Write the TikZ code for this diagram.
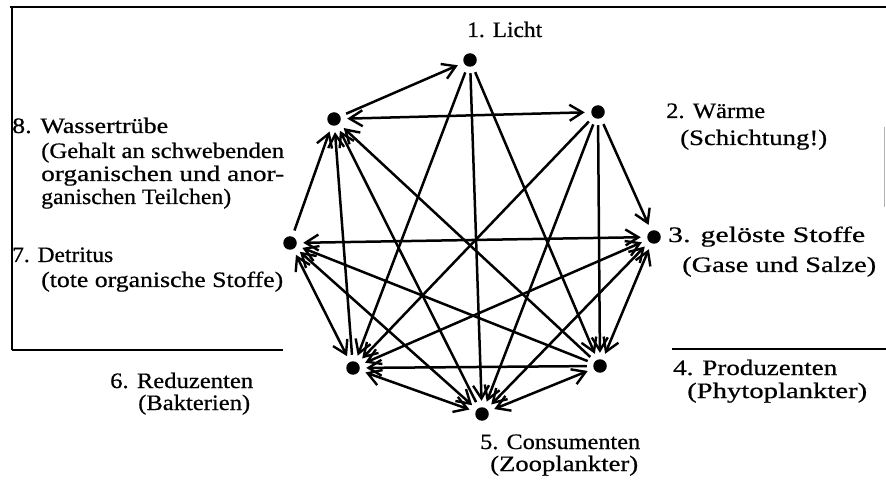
\documentclass[tikz,border=0pt]{standalone}
\usepackage{graphicx}
\usepackage{fontspec}
\setmainfont{Liberation Serif}[FakeBold=0.6]
\usetikzlibrary{arrows.meta}
\newcommand\fitw[2]{\resizebox{#1}{\height}{#2}}
\begin{document}
\begin{tikzpicture}[x=1pt,y=-1pt,
  dot/.style={circle,fill=black,inner sep=0pt,minimum size=13.5pt,outer sep=6.5pt},
  lbl/.style={anchor=base west,inner sep=0pt,font=\fontsize{22}{26}\selectfont},
  edge/.style={line width=2.5pt},
  arr/.style={edge,-{Straight Barb[length=13pt,width=16pt,line width=2.4pt]}},
  barr/.style={edge,{Straight Barb[length=13pt,width=16pt,line width=2.4pt]}-{Straight Barb[length=13pt,width=16pt,line width=2.4pt]}},
  frame/.style={line width=2pt}]
\useasboundingbox (0,0) rectangle (886,486);
% frame
\draw[frame] (10,7) -- (886,7);
\draw[frame] (11.5,7) -- (11.5,350);
\draw[frame] (11.5,350) -- (283,350);
\draw[frame] (672,349) -- (886,349);
\draw[gray!60,line width=1pt] (884.5,127) -- (884.5,207);
% dots
\node[dot] (n1) at (470,60) {};
\node[dot] (n2) at (598,112) {};
\node[dot] (n3) at (654,237) {};
\node[dot] (n4) at (600,366) {};
\node[dot] (n5) at (482,414) {};
\node[dot] (n6) at (353,368) {};
\node[dot] (n7) at (290,243) {};
\node[dot] (n8) at (334,119) {};
% connectors
\draw[arr] (n8) -- (n1);
\draw[arr] (n1) -- (n6);
\draw[arr] (n1) -- (n5);
\draw[arr] (n1) -- (n4);
\draw[barr] (n2) -- (n8);
\draw[arr] (n2) -- (n3);
\draw[arr] (n2) -- (n4);
\draw[arr] (n2) -- (n5);
\draw[arr] (n2) -- (n6);
\draw[barr] (n7) -- (n3);
\draw[barr] (n3) -- (n4);
\draw[barr] (n3) -- (n5);
\draw[barr] (n3) -- (n6);
\draw[barr] (n4) -- (n5);
\draw[arr] (n4) -- (n6);
\draw[arr] (n4) -- (n7);
\draw[arr] (n4) -- (n8);
\draw[barr] (n5) -- (n6);
\draw[barr] (n7) -- (n5);
\draw[arr] (n5) -- (n8);
\draw[barr] (n7) -- (n6);
\draw[arr] (n6) -- (n8);
\draw[arr] (n7) -- (n8);
% labels
\node[lbl] (t1) at (467,37) {\fitw{75pt}{1. Licht}};
\node[lbl] (t2a) at (666,118) {\fitw{99pt}{2. Wärme}};
\node[lbl] (t2b) at (680,145) {\fitw{147pt}{(Schichtung!)}};
\node[lbl] (t3a) at (668,242) {\fitw{197pt}{3. gelöste Stoffe}};
\node[lbl] (t3b) at (682,272) {\fitw{194pt}{(Gase und Salze)}};
\node[lbl] (t4a) at (673,375) {\fitw{164pt}{4. Produzenten}};
\node[lbl] (t4b) at (687,398) {\fitw{180pt}{(Phytoplankter)}};
\node[lbl] (t5a) at (480,449) {\fitw{160pt}{5. Consumenten}};
\node[lbl] (t5b) at (490,471) {\fitw{148pt}{(Zooplankter)}};
\node[lbl] (t6a) at (110,388) {\fitw{143pt}{6. Reduzenten}};
\node[lbl] (t6b) at (138,410) {\fitw{112pt}{(Bakterien)}};
\node[lbl] (t7a) at (12,262) {\fitw{101pt}{7. Detritus}};
\node[lbl] (t7b) at (41,287) {\fitw{242pt}{(tote organische Stoffe)}};
\node[lbl] (t8a) at (12,133) {\fitw{156pt}{8. Wassertrübe}};
\node[lbl] (t8b) at (41,158) {\fitw{243pt}{(Gehalt an schwebenden}};
\node[lbl] (t8c) at (41,181) {\fitw{243pt}{organischen und anor-}};
\node[lbl] (t8d) at (41,204) {\fitw{190pt}{ganischen Teilchen)}};
\end{tikzpicture}
\end{document}
